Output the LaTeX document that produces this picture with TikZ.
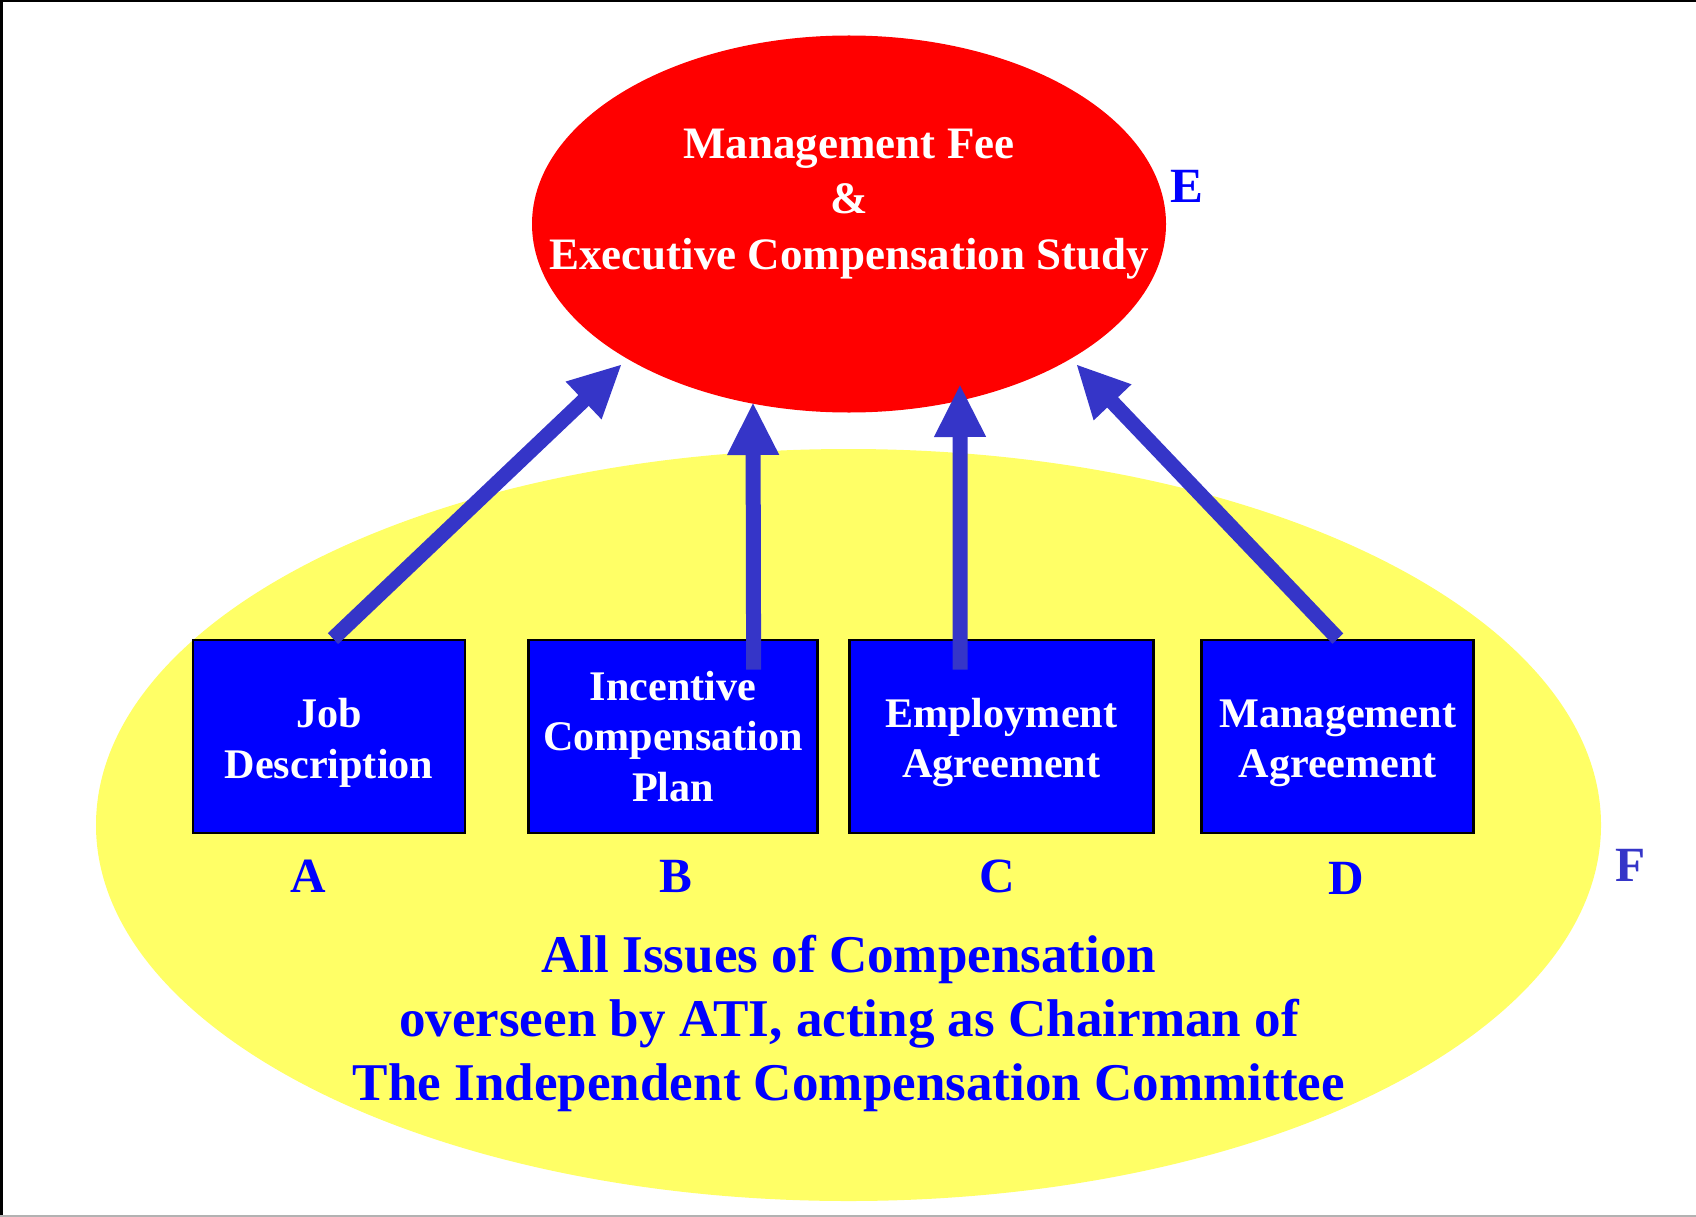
\documentclass[tikz,border=0pt]{standalone}
\usepackage{fontspec}
\setmainfont{Liberation Serif}
\usetikzlibrary{arrows.meta,positioning,shapes.geometric}

\definecolor{arrowblue}{RGB}{53,53,200}
\definecolor{paleyellow}{RGB}{255,255,102}
% taller first line, pushes two-line captions down a little
\newcommand\capstrut{\rule{0pt}{4.2mm}}

\begin{document}
\begin{tikzpicture}[
  x=1mm, y=1mm,
  font=\bfseries,
  oval/.style={ellipse, inner sep=0pt, outer sep=0pt},
  doc/.style={rectangle, draw=black, line width=0.8pt, fill=blue, text=white,
              align=center, inner sep=0pt, minimum height=19.3mm,
              font=\fontsize{12}{14.3}\selectfont\bfseries},
  tag/.style={text=blue, inner sep=0pt, font=\fontsize{14}{16}\selectfont\bfseries},
  a/.style={-{Triangle[width=4.8mm, length=5.3mm]}, line width=1.5mm, draw=arrowblue}
]
\useasboundingbox (0,0) rectangle (169.6,-121.6);

% ---------------- frame ----------------
\draw[line width=0.5mm] (0,-121.6) -- (0,0) -- (169.6,0);
\draw[black!30, line width=0.2mm] (0,-121.6) -- (169.6,-121.6);

% ---------------- ovals ----------------
\node[oval, fill=paleyellow, minimum width=150.5mm, minimum height=75.2mm] (board) at (84.85,-82.5) {};
\node[oval, fill=red, minimum width=63.4mm, minimum height=37.7mm] (fee) at (84.9,-22.4) {};
\node[text=white, align=center, font=\fontsize{12.8}{15.7}\selectfont\bfseries] (feetxt) at (84.9,-20.4)
  {Management Fee\\ \&\\ Executive Compensation Study};
\node[tag] (te) at (118.7,-18.6) {E};
\node[tag, text=arrowblue] (tf) at (163.0,-86.5) {F};

% ---------------- documents ----------------
\node[doc, minimum width=27.2mm] (job) at (32.9,-73.65) {\capstrut Job\\ Description};
\node[doc, minimum width=28.9mm, right=6.08mm of job] (icp) {Incentive\\ Compensation\\ Plan};
\node[doc, minimum width=30.4mm, right=2.88mm of icp] (emp) {\capstrut Employment\\ Agreement};
\node[doc, minimum width=27.2mm, right=4.58mm of emp] (mgt) {\capstrut Management\\ Agreement};

\node[tag, below=2.5mm of job, xshift=-2.1mm] (ta) {A};
\node[tag, below=2.5mm of icp, xshift=0.3mm] (tb) {B};
\node[tag, below=2.5mm of emp, xshift=-0.4mm] (tc) {C};
\node[tag, below=2.7mm of mgt, xshift=0.8mm] (td) {D};

\node[text=blue, align=center, font=\fontsize{15.1}{18.2}\selectfont\bfseries] (remit) at (84.9,-102.3)
  {All Issues of Compensation\\ overseen by ATI, acting as Chairman of\\ The Independent Compensation Committee};

% ---------------- arrows ----------------
\draw[a] ([xshift=0.4mm]job.north) -- ([shift={(-22.7,-14.0)}]fee.center);
\draw[a] ([shift={(8.05,-3.1)}]icp.north) -- ([shift={(-9.6,-17.8)}]fee.center);
\draw[a] ([shift={(-4.1,-3.1)}]emp.north) -- ([shift={(11.1,-16.0)}]fee.center);
\draw[a] (mgt.north) -- ([shift={(22.7,-14.0)}]fee.center);
\end{tikzpicture}
\end{document}
